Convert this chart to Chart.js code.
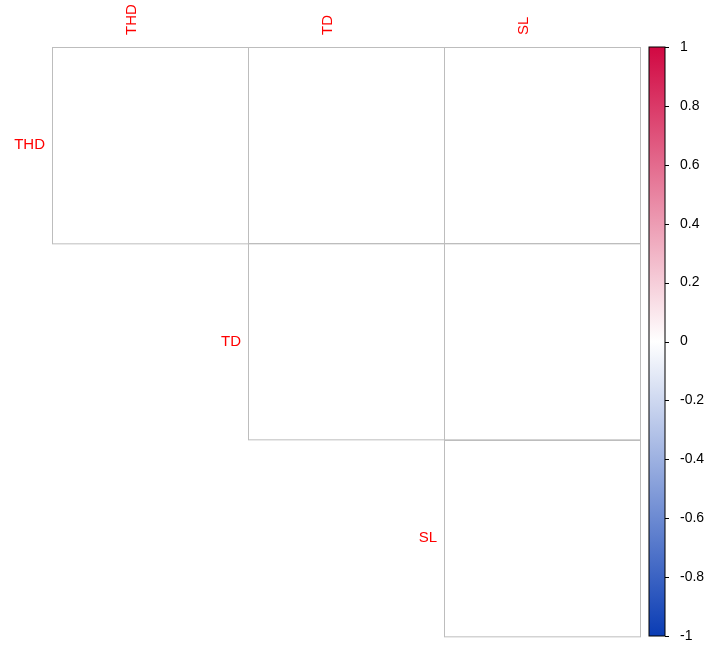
<!DOCTYPE html>
<html>
<head>
<meta charset="utf-8">
<script src="https://cdn.jsdelivr.net/npm/chart.js@4"></script>
<style>
  html, body { margin: 0; padding: 0; background: #fff; }
  #wrap { width: 707px; height: 653px; }
</style>
</head>
<body>
<div id="wrap"><canvas id="corr"></canvas></div>
<script>
// variables and upper triangle of the correlation matrix
const variables = ['THD', 'TD', 'SL'];
const thdRow = [1, 0.5, 0.6];
const tdRow = [null, 1, 0.78];
const slRow = [null, null, 1];
const colorbarTicks = [1, 0.8, 0.6, 0.4, 0.2, 0, -0.2, -0.4, -0.6, -0.8, -1];

const rows = [thdRow, tdRow, slRow];
const RED = [209, 8, 66];
const BLUE = [10, 60, 180];
const labelFont = { family: 'Liberation Sans, Arial, sans-serif', size: 15 };

function corrColor(v) {
    const c = v >= 0 ? RED : BLUE;
    const t = Math.abs(v);
    const mix = i => Math.round(255 + (c[i] - 255) * t);
    return `rgb(${mix(0)},${mix(1)},${mix(2)})`;
}

const points = [];
rows.forEach((row, r) => row.forEach((v, c) => {
    if (v !== null) points.push({ x: c, y: r, v: v });
}));

// сетка, подписи строк и цветовая шкала
const corrPlugin = {
    id: 'corrPlugin',
    beforeDatasetsDraw(chart) {
        const { ctx, scales } = chart;
        const x = scales.x, y = scales.y;
        ctx.save();
        ctx.strokeStyle = '#bdbdbd';
        ctx.lineWidth = 1;
        rows.forEach((row, r) => row.forEach((v, c) => {
            if (v === null) return;
            const x0 = x.getPixelForValue(c - 0.5), x1 = x.getPixelForValue(c + 0.5);
            const y0 = y.getPixelForValue(r - 0.5), y1 = y.getPixelForValue(r + 0.5);
            ctx.strokeRect(Math.round(x0) + 0.5, Math.round(y0) + 0.5, x1 - x0, y1 - y0);
        }));
        // подписи строк слева от диагонали
        ctx.fillStyle = '#ff0000';
        ctx.font = `${labelFont.size}px ${labelFont.family}`;
        ctx.textAlign = 'right';
        ctx.textBaseline = 'middle';
        variables.forEach((name, i) => {
            ctx.fillText(name, x.getPixelForValue(i - 0.5) - 7, y.getPixelForValue(i));
        });
        // цветовая шкала
        const cb = scales.cb;
        const top = cb.getPixelForValue(1), bottom = cb.getPixelForValue(-1);
        const left = chart.chartArea.right + 9, w = 16;
        const grad = ctx.createLinearGradient(0, top, 0, bottom);
        grad.addColorStop(0, corrColor(1));
        grad.addColorStop(0.5, '#ffffff');
        grad.addColorStop(1, corrColor(-1));
        ctx.fillStyle = grad;
        ctx.fillRect(left, top, w, bottom - top);
        ctx.strokeStyle = '#000';
        ctx.strokeRect(left, top, w, bottom - top);
        colorbarTicks.forEach(t => {
            const py = Math.round(cb.getPixelForValue(t)) + 0.5;
            ctx.beginPath();
            ctx.moveTo(left + w, py);
            ctx.lineTo(left + w + 4, py);
            ctx.stroke();
        });
        ctx.restore();
    }
};

new Chart(document.getElementById('corr'), {
    type: 'bubble',
    data: {
        datasets: [{
            data: points,
            radius: ctx => {
                const area = ctx.chart.chartArea;
                if (!area || !ctx.raw) return 0;
                const cell = (area.right - area.left) / variables.length;
                return cell * 0.454 * Math.sqrt(Math.abs(ctx.raw.v));
            },
            hoverRadius: 0,
            borderWidth: 0,
            backgroundColor: ctx => ctx.raw ? corrColor(ctx.raw.v) : 'rgba(0,0,0,0)'
        }]
    },
    options: {
        responsive: true,
        maintainAspectRatio: false,
        animation: false,
        events: [],
        layout: { padding: { left: 52, bottom: 17, top: 0, right: 0 } },
        plugins: { legend: { display: false }, tooltip: { enabled: false } },
        scales: {
            x: {
                type: 'linear', position: 'top', min: -0.5, max: 2.5,
                afterBuildTicks: s => { s.ticks = variables.map((_, i) => ({ value: i })); },
                afterFit: s => { s.height = 47; },
                grid: { display: false }, border: { display: false },
                ticks: {
                    callback: v => variables[v], color: '#ff0000', font: labelFont,
                    minRotation: 90, maxRotation: 90, padding: 4
                }
            },
            y: {
                type: 'linear', min: -0.5, max: 2.5, reverse: true, display: false
            },
            cb: {
                type: 'linear', position: 'right', min: -1, max: 1,
                afterBuildTicks: s => { s.ticks = colorbarTicks.map(v => ({ value: v })); },
                afterFit: s => { s.width = 67; s.paddingTop = 0; s.paddingBottom = 0; },
                grid: { display: false }, border: { display: false },
                ticks: {
                    callback: v => String(Math.round(v * 10) / 10),
                    color: '#000', font: { family: labelFont.family, size: 14 }, padding: 32
                }
            }
        }
    },
    plugins: [corrPlugin]
});
</script>
</body>
</html>
